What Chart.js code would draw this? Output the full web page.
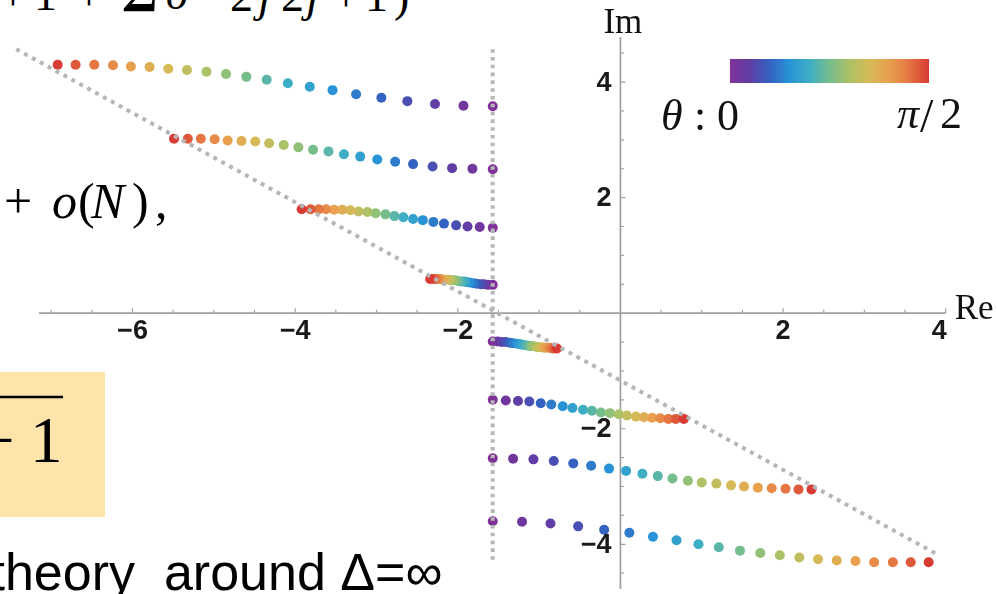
<!DOCTYPE html>
<html><head><meta charset="utf-8">
<script src="https://cdn.jsdelivr.net/npm/chart.js@4/dist/chart.umd.min.js"></script>
<style>
html,body{margin:0;padding:0;background:#fff;overflow:hidden}
#wrap{position:relative;width:997px;height:594px;overflow:hidden}
#bg{position:absolute;left:0;top:0}
#chartBox{position:absolute;left:0;top:0;width:997px;height:594px}
.serif{font-family:"Liberation Serif","Times New Roman",serif}
.sans{font-family:"Liberation Sans",Arial,sans-serif}
</style></head><body>
<div id="wrap">
<svg id="bg" width="997" height="594" xmlns="http://www.w3.org/2000/svg">
  <!-- slide fragments behind the plot -->
  <g class="serif" font-size="46" fill="#000">
    <text x="0" y="10">+</text>
    <text x="34" y="10">1</text>
    <text x="76" y="10">+</text>
    <text x="122" y="11" font-size="54" font-weight="bold">Σ</text>
    <text x="166" y="9" font-style="italic">δ</text>
    <text x="198" y="5">−</text>
    <text x="230" y="11">2</text>
    <text x="258" y="11" font-style="italic">j</text>
    <text x="281" y="11">2</text>
    <text x="306" y="11" font-style="italic">j</text>
    <text x="333" y="11">+</text>
    <text x="365" y="11">1</text>
    <text x="394" y="11">)</text>
  </g>
  <g class="serif" font-size="50" fill="#000">
    <text x="4" y="218">+</text>
    <text x="52" y="218" font-style="italic">o</text>
    <text x="78" y="218">(</text>
    <text x="91" y="218" font-style="italic">N</text>
    <text x="132" y="218">)</text>
    <text x="155" y="218">,</text>
  </g>
  <rect x="0" y="372" width="105" height="145" fill="#fee3aa"/>
  <line x1="0" y1="397" x2="63" y2="397" stroke="#000" stroke-width="2.5"/>
  <text class="serif" x="-22" y="462" font-size="65" fill="#000">−</text>
  <text class="serif" x="30" y="462" font-size="65" fill="#000">1</text>
  <text class="sans" x="-9.5" y="590" font-size="52" fill="#000" xml:space="preserve">theory  around Δ=∞</text>
</svg>
<div id="chartBox"><canvas id="c"></canvas></div>
</div>
<script>
// ---------- data, each row ordered theta = 0 ... pi/2 ----------
const row1Re = [-1.57,-1.93,-2.28,-2.62,-2.94,-3.25,-3.54,-3.82,-4.09,-4.35,-4.60,-4.85,-5.09,-5.33,-5.56,-5.79,-6.02,-6.24,-6.47,-6.70,-6.92];
const row1Im = [3.58,3.59,3.62,3.67,3.73,3.79,3.86,3.92,3.98,4.04,4.09,4.14,4.18,4.21,4.23,4.26,4.27,4.29,4.30,4.30,4.30];
const row2Re = [-1.57,-1.82,-2.07,-2.31,-2.55,-2.77,-2.99,-3.20,-3.40,-3.59,-3.78,-3.96,-4.14,-4.32,-4.49,-4.66,-4.83,-4.99,-5.16,-5.32,-5.49];
const row2Im = [2.49,2.50,2.51,2.54,2.58,2.62,2.66,2.71,2.75,2.80,2.83,2.87,2.91,2.94,2.97,2.98,2.99,3.01,3.02,3.02,3.02];
const row3Re = [-1.57,-1.73,-1.88,-2.02,-2.17,-2.30,-2.43,-2.55,-2.67,-2.78,-2.89,-3.01,-3.11,-3.22,-3.32,-3.42,-3.52,-3.62,-3.71,-3.81,-3.92];
const row3Im = [1.48,1.49,1.50,1.52,1.55,1.58,1.61,1.63,1.66,1.68,1.71,1.73,1.75,1.76,1.78,1.79,1.79,1.80,1.80,1.80,1.80];
const row4Re = [-1.57,-1.63,-1.68,-1.72,-1.77,-1.81,-1.86,-1.90,-1.93,-1.97,-2.01,-2.04,-2.08,-2.11,-2.15,-2.18,-2.21,-2.24,-2.27,-2.30,-2.34];
const row4Im = [0.49,0.49,0.50,0.50,0.51,0.52,0.53,0.54,0.55,0.55,0.56,0.57,0.57,0.58,0.58,0.58,0.59,0.59,0.59,0.59,0.59];
const row5Re = [-1.57,-1.51,-1.46,-1.41,-1.36,-1.32,-1.27,-1.23,-1.19,-1.15,-1.11,-1.08,-1.04,-1.01,-0.97,-0.94,-0.91,-0.87,-0.84,-0.81,-0.78];
const row5Im = [-0.49,-0.49,-0.50,-0.50,-0.51,-0.52,-0.53,-0.54,-0.55,-0.56,-0.57,-0.57,-0.58,-0.59,-0.59,-0.60,-0.60,-0.60,-0.61,-0.61,-0.61];
const row6Re = [-1.57,-1.41,-1.26,-1.12,-0.98,-0.85,-0.71,-0.59,-0.46,-0.35,-0.24,-0.13,-0.02,0.08,0.19,0.29,0.39,0.49,0.59,0.68,0.78];
const row6Im = [-1.50,-1.51,-1.52,-1.53,-1.56,-1.58,-1.61,-1.64,-1.67,-1.69,-1.72,-1.73,-1.75,-1.77,-1.79,-1.80,-1.81,-1.82,-1.83,-1.83,-1.83];
const row7Re = [-1.57,-1.32,-1.07,-0.82,-0.58,-0.36,-0.14,0.07,0.27,0.46,0.64,0.83,1.00,1.18,1.36,1.52,1.69,1.86,2.03,2.19,2.35];
const row7Im = [-2.51,-2.52,-2.53,-2.56,-2.60,-2.64,-2.69,-2.73,-2.78,-2.82,-2.86,-2.90,-2.93,-2.95,-2.98,-3.00,-3.02,-3.03,-3.04,-3.05,-3.05];
const row8Re = [-1.57,-1.21,-0.86,-0.52,-0.20,0.11,0.40,0.69,0.96,1.21,1.47,1.72,1.96,2.20,2.43,2.66,2.89,3.12,3.35,3.57,3.79];
const row8Im = [-3.60,-3.61,-3.64,-3.69,-3.75,-3.80,-3.87,-3.93,-4.00,-4.05,-4.11,-4.15,-4.19,-4.23,-4.26,-4.28,-4.29,-4.31,-4.31,-4.31,-4.31];

// dotted guide lines (end points)
const verticalGuideRe = [-1.5708,-1.5708];
const verticalGuideIm = [4.57,-4.27];
const diagonalGuideRe = [-7.43,3.89];
const diagonalGuideIm = [4.57,-4.17];

// axes
const xTickMarks = [-7,-6.5,-6,-5.5,-5,-4.5,-4,-3.5,-3,-2.5,-2,-1.5,-1,-0.5,0.5,1,1.5,2,2.5,3,3.5,4];
const xTickLabelValues = [-6,-4,-2,2,4];
const xTickLabelText = ['−6','−4','−2','2','4'];
const yTickMarks = [-4.5,-4,-3.5,-3,-2.5,-2,-1.5,-1,-0.5,0.5,1,1.5,2,2.5,3,3.5,4,4.5];
const yTickLabelValues = [-4,-2,2,4];
const yTickLabelText = ['−4','−2','2','4'];
const xAxisTitle = 'Re';
const yAxisTitle = 'Im';
const legendLeftText = ['θ', ':', '0'];
const legendRightText = ['π', '/', '2'];

// ---------- style ----------
const cmapStops = [
  [0.00,[128,50,152]],[0.10,[96,62,165]],[0.20,[52,98,192]],[0.30,[40,148,215]],
  [0.40,[62,174,196]],[0.50,[118,189,140]],[0.60,[172,194,102]],[0.70,[214,186,88]],
  [0.80,[232,160,78]],[0.90,[228,118,66]],[1.00,[216,58,52]]];
function cmap(t){
  for(let i=1;i<cmapStops.length;i++){
    if(t<=cmapStops[i][0]+1e-9){
      const [t0,c0]=cmapStops[i-1],[t1,c1]=cmapStops[i];
      const f=(t-t0)/(t1-t0);
      return 'rgb('+c0.map((v,k)=>Math.round(v+(c1[k]-v)*f)).join(',')+')';
    }
  }
  const c=cmapStops[cmapStops.length-1][1]; return 'rgb('+c.join(',')+')';
}

const rows = [[row1Re,row1Im],[row2Re,row2Im],[row3Re,row3Im],[row4Re,row4Im],
              [row5Re,row5Im],[row6Re,row6Im],[row7Re,row7Im],[row8Re,row8Im]];

const pointSets = rows.map(([re,im]) => ({
  data: re.map((v,i)=>({x:v,y:im[i]})),
  pointBackgroundColor: re.map((_,i)=>cmap(i/(re.length-1))),
  pointBorderWidth: 0,
  pointRadius: 5,
  showLine: false,
  order: 2,
  clip: false
}));
const guide = (re,im,dash) => ({
  data: re.map((v,i)=>({x:v,y:im[i]})),
  showLine: true,
  borderColor: 'rgb(182,182,182)',
  borderWidth: 4,
  borderDash: dash,
  borderCapStyle: 'butt',
  pointRadius: 0,
  order: 0,
  clip: false
});

const mmaAxes = {
  id: 'mmaAxes',
  beforeDatasetsDraw(chart){
    const {ctx, scales:{x,y}} = chart;
    const ox = x.getPixelForValue(0), oy = y.getPixelForValue(0);
    ctx.save();
    ctx.strokeStyle = '#a0a0a0';
    ctx.lineWidth = 1.7;
    ctx.beginPath();
    ctx.moveTo(x.left, oy); ctx.lineTo(x.right, oy);
    ctx.moveTo(ox, y.top); ctx.lineTo(ox, y.bottom);
    ctx.stroke();
    ctx.lineWidth = 1.2;
    ctx.beginPath();
    xTickMarks.forEach(v=>{const p=x.getPixelForValue(v); const L=xTickLabelValues.includes(v)?5:3.5; ctx.moveTo(p,oy); ctx.lineTo(p,oy-L);});
    yTickMarks.forEach(v=>{const p=y.getPixelForValue(v); const L=yTickLabelValues.includes(v)?5:3.5; ctx.moveTo(ox,p); ctx.lineTo(ox+L,p);});
    ctx.stroke();
    ctx.restore();
  },
  afterDatasetsDraw(chart){
    const {ctx, scales:{x,y}} = chart;
    const ox = x.getPixelForValue(0), oy = y.getPixelForValue(0);
    ctx.save();
    ctx.fillStyle = '#1a1a1a';
    ctx.font = 'bold 27px "Liberation Sans", Arial, sans-serif';
    ctx.textAlign = 'center'; ctx.textBaseline = 'alphabetic';
    xTickLabelValues.forEach((v,i)=>{
      let p = x.getPixelForValue(v);
      const w = ctx.measureText(xTickLabelText[i]).width;
      if (p + w/2 > x.right) p = x.right - w/2 + 1;
      ctx.fillText(xTickLabelText[i], p, oy + 26);
    });
    ctx.textAlign = 'right'; ctx.textBaseline = 'middle';
    yTickLabelValues.forEach((v,i)=>{
      ctx.fillText(yTickLabelText[i], ox - 9, y.getPixelForValue(v) + 1);
    });
    // axis titles
    ctx.fillStyle = '#111';
    ctx.font = '35px "Liberation Serif", "Times New Roman", serif';
    ctx.textAlign = 'left'; ctx.textBaseline = 'alphabetic';
    ctx.fillText(yAxisTitle, ox - 17, y.top - 4);
    ctx.fillText(xAxisTitle, x.right + 9, oy + 6);
    // colour bar legend
    const bx0 = 730, bx1 = 929, by0 = 59, by1 = 83;
    const g = ctx.createLinearGradient(bx0,0,bx1,0);
    cmapStops.forEach(([t])=>g.addColorStop(t, cmap(t)));
    ctx.fillStyle = g;
    ctx.fillRect(bx0, by0, bx1-bx0, by1-by0);
    ctx.fillStyle = '#111';
    const it = 'italic 44px "Liberation Serif", "Times New Roman", serif';
    const up = '44px "Liberation Serif", "Times New Roman", serif';
    ctx.font = it; ctx.fillText(legendLeftText[0], 661, 130);
    ctx.font = up; ctx.fillText(legendLeftText[1], 694, 130);
    ctx.fillText(legendLeftText[2], 717, 130);
    // right label  "π/2"
    ctx.font = it; ctx.fillText(legendRightText[0], 897, 128);
    ctx.font = '48px "Liberation Serif", "Times New Roman", serif';
    ctx.fillText(legendRightText[1], 920, 132);
    ctx.font = up; ctx.fillText(legendRightText[2], 940, 128);
    ctx.restore();
  }
};

new Chart(document.getElementById('c'), {
  type: 'scatter',
  data: { datasets: [guide(verticalGuideRe, verticalGuideIm, [3.6,4.2]), guide(diagonalGuideRe, diagonalGuideIm, [4,5]), ...pointSets] },
  options: {
    responsive: true,
    maintainAspectRatio: false,
    animation: false,
    devicePixelRatio: 1,
    events: [],
    layout: { padding: { left: 39, right: 51.3, top: 37, bottom: 0 } },
    plugins: { legend: { display: false }, tooltip: { enabled: false }, title: { display: false } },
    scales: {
      x: { type: 'linear', min: -7.15, max: 4.0, display: false },
      y: { type: 'linear', min: -4.774, max: 4.78, display: false }
    }
  },
  plugins: [mmaAxes]
});
</script>
</body></html>
